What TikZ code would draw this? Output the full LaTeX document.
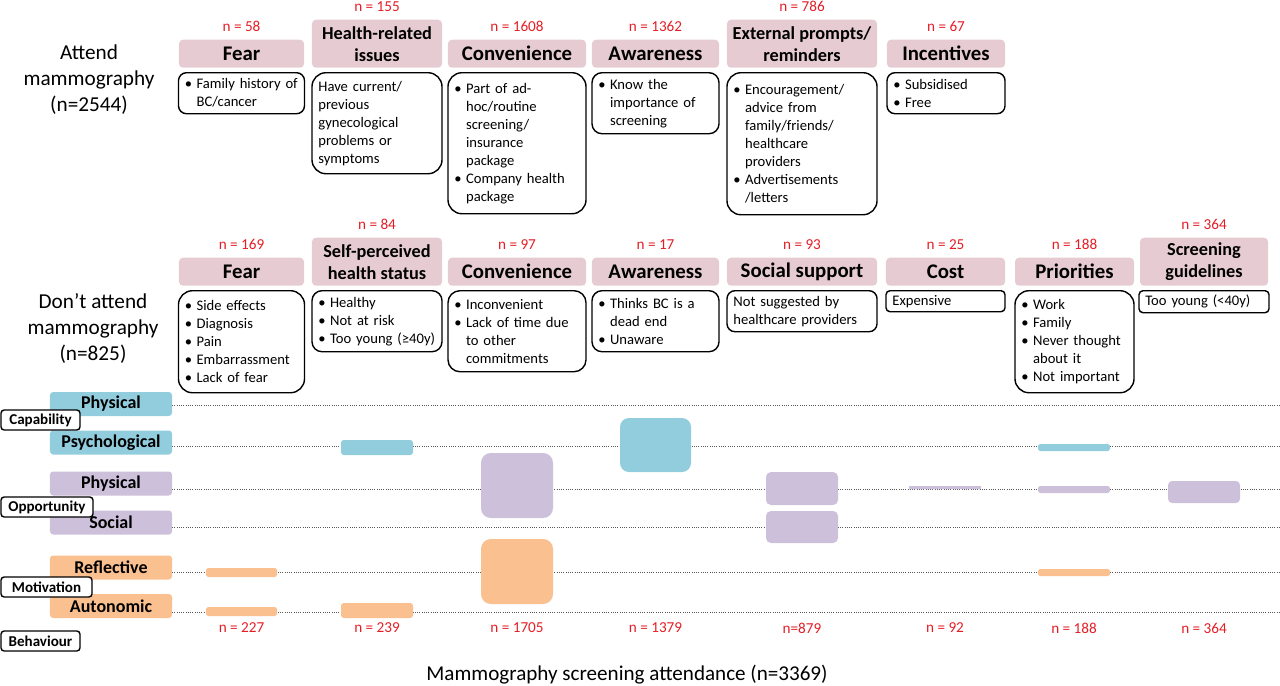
\documentclass[tikz,border=0pt]{standalone}
\usepackage{fontspec}
\setmainfont{Carlito}
\usetikzlibrary{positioning}

\definecolor{hdrpink}{RGB}{230,204,210}
\definecolor{capblue}{RGB}{146,205,221}
\definecolor{opppurple}{RGB}{204,192,218}
\definecolor{motorange}{RGB}{250,192,144}
\definecolor{nred}{RGB}{228,30,38}

\newcommand\itm[1]{\mbox{\makebox[0.8em][l]{•}#1}}
\newcommand\cnt[1]{\mbox{\hspace*{0.8em}#1}}

\tikzset{
	hdr/.style={fill=hdrpink, rounded corners=0.1cm, anchor=south, align=center, inner sep=0pt,
		minimum height=0.7cm, font=\fontsize{14.8}{15.6}\selectfont\bfseries},
	hdrtwo/.style={hdr, minimum height=1.2cm, font=\fontsize{13}{15.6}\selectfont\bfseries},
	detail/.style 2 args={draw, line width=1pt, rounded corners=0.3cm, anchor=north, align=left,
		inner xsep=0.16cm, inner ysep=0.05cm, text width=#1, minimum height=#2,
		font=\fontsize{10.4}{12.8}\selectfont},
	nlab/.style={text=nred, inner sep=0pt, font=\fontsize{10.8}{12}\selectfont},
	comb/.style={rounded corners=0.08cm, minimum width=3.05cm, minimum height=0.6cm, inner sep=0pt,
		font=\fontsize{12.8}{14}\selectfont\bfseries},
	group/.style={draw, fill=white, line width=1pt, rounded corners=0.08cm, minimum height=0.5cm,
		inner sep=0pt, font=\fontsize{10.7}{12}\selectfont\bfseries},
	gridline/.style={densely dotted, gray!70!black, line width=0.6pt},
	side/.style={align=center, font=\fontsize{15.1}{18.5}\selectfont},
}

\begin{document}
\begin{tikzpicture}[x=0.025cm, y=-0.025cm]
	\useasboundingbox (0,0) rectangle (1280,685);

	% attend
	\node (attend) at (89, 80)	[side]	{Attend\\mammography\\(n=2544)};
	\node (tFear)	at (241.5, 68)	[hdr, minimum width=3.125cm]	{Fear};
	\node (tHealth)	at (377, 68)	[hdrtwo, minimum width=3.25cm]	{Health-related\\issues};
	\node (tConv)	at (517, 68)	[hdr, minimum width=3.45cm]	{Convenience};
	\node (tAware)	at (655.5, 68)	[hdr, minimum width=3.175cm]	{Awareness};
	\node (tExt)	at (802, 68)	[hdrtwo, minimum width=3.75cm]	{External prompts/\\reminders};
	\node (tInc)	at (946, 68)	[hdr, minimum width=2.95cm]	{Incentives};

	\node[nlab, above=0.2cm of tFear]	(ntFear)	{n = 58};
	\node[nlab, above=0.2cm of tHealth]	(ntHealth)	{n = 155};
	\node[nlab, above=0.2cm of tConv]	(ntConv)	{n = 1608};
	\node[nlab, above=0.2cm of tAware]	(ntAware)	{n = 1362};
	\node[nlab, above=0.2cm of tExt]	(ntExt)	{n = 786};
	\node[nlab, above=0.2cm of tInc]	(ntInc)	{n = 67};

	\node[detail={2.83cm}{1.025cm}, rounded corners=0.2cm, below=0.1cm of tFear] (dtFear)
		{\itm{Family history of}\\\cnt{BC/cancer}};
	\node[detail={2.93cm}{2.525cm}, rounded corners=0.35cm, below=0.1cm of tHealth] (dtHealth)
		{Have current/\\previous\\gynecological\\problems or\\symptoms};
	\node[detail={3.13cm}{3.525cm}, rounded corners=0.35cm, below=0.1cm of tConv] (dtConv)
		{\itm{Part of ad-}\\\cnt{hoc/routine}\\\cnt{screening/}\\\cnt{insurance}\\\cnt{package}\\\itm{Company health}\\\cnt{package}};
	\node[detail={2.855cm}{1.525cm}, rounded corners=0.25cm, below=0.1cm of tAware] (dtAware)
		{\itm{Know the}\\\cnt{importance of}\\\cnt{screening}};
	\node[detail={3.43cm}{3.55cm}, rounded corners=0.35cm, below=0.1cm of tExt] (dtExt)
		{\itm{Encouragement/}\\\cnt{advice from}\\\cnt{family/friends/}\\\cnt{healthcare}\\\cnt{providers}\\\itm{Advertisements}\\\cnt{/letters}};
	\node[detail={2.63cm}{1.025cm}, rounded corners=0.2cm, below=0.1cm of tInc] (dtInc)
		{\itm{Subsidised}\\\itm{Free}};

	% don't attend
	\node (dontattend) at (93, 328)	[side]	{Don’t attend\\mammography\\(n=825)};
	\node (mFear)	at (241.5, 286)	[hdr, minimum width=3.125cm]	{Fear};
	\node (mSelf)	at (377, 286)	[hdrtwo, minimum width=3.25cm]	{Self-perceived\\health status};
	\node (mConv)	at (517, 286)	[hdr, minimum width=3.45cm]	{Convenience};
	\node (mAware)	at (655.5, 286)	[hdr, minimum width=3.175cm]	{Awareness};
	\node (mSoc)	at (802, 286)	[hdr, minimum width=3.75cm]	{Social support};
	\node (mCost)	at (945.5, 286)	[hdr, minimum width=2.975cm]	{Cost};
	\node (mPrio)	at (1074.5, 286)	[hdr, minimum width=2.975cm]	{Priorities};
	\node (mGuide)	at (1204, 286)	[hdrtwo, minimum width=3.2cm]	{Screening\\guidelines};

	\node[nlab, above=0.2cm of mFear]	(nmFear)	{n = 169};
	\node[nlab, above=0.2cm of mSelf]	(nmSelf)	{n = 84};
	\node[nlab, above=0.2cm of mConv]	(nmConv)	{n = 97};
	\node[nlab, above=0.2cm of mAware]	(nmAware)	{n = 17};
	\node[nlab, above=0.2cm of mSoc]	(nmSoc)	{n = 93};
	\node[nlab, above=0.2cm of mCost]	(nmCost)	{n = 25};
	\node[nlab, above=0.2cm of mPrio]	(nmPrio)	{n = 188};
	\node[nlab, above=0.2cm of mGuide]	(nmGuide)	{n = 364};

	\node[detail={2.83cm}{2.55cm}, rounded corners=0.35cm, below=0.1cm of mFear] (dmFear)
		{\itm{Side effects}\\\itm{Diagnosis}\\\itm{Pain}\\\itm{Embarrassment}\\\itm{Lack of fear}};
	\node[detail={2.93cm}{1.525cm}, rounded corners=0.25cm, below=0.1cm of mSelf] (dmSelf)
		{\itm{Healthy}\\\itm{Not at risk}\\\itm{Too young (≥40y)}};
	\node[detail={3.13cm}{2.025cm}, rounded corners=0.3cm, below=0.1cm of mConv] (dmConv)
		{\itm{Inconvenient}\\\itm{Lack of time due}\\\cnt{to other}\\\cnt{commitments}};
	\node[detail={2.855cm}{1.525cm}, rounded corners=0.25cm, below=0.1cm of mAware] (dmAware)
		{\itm{Thinks BC is a}\\\cnt{dead end}\\\itm{Unaware}};
	\node[detail={3.43cm}{1.025cm}, rounded corners=0.2cm, below=0.1cm of mSoc] (dmSoc)
		{Not suggested by\\healthcare providers};
	\node[detail={2.655cm}{0.525cm}, rounded corners=0.1cm, below=0.1cm of mCost] (dmCost)
		{Expensive};
	\node[detail={2.655cm}{2.55cm}, rounded corners=0.35cm, below=0.1cm of mPrio] (dmPrio)
		{\itm{Work}\\\itm{Family}\\\itm{Never thought}\\\cnt{about it}\\\itm{Not important}};
	\node[detail={2.93cm}{0.55cm}, rounded corners=0.1cm, below=0.1cm of mGuide] (dmGuide)
		{Too young (<40y)};

	% COM-B rows
	\foreach \y in {405,446,489,527,572,612}
		\draw[gridline] (172,\y) -- (1280,\y);

	\node (cPhys)	at (111, 404)	[comb, fill=capblue]	{Physical};
	\node (cPsych)	at (111, 442.5)	[comb, fill=capblue]	{Psychological};
	\node (oPhys)	at (111, 483.5)	[comb, fill=opppurple]	{Physical};
	\node (oSoc)	at (111, 522.5)	[comb, fill=opppurple]	{Social};
	\node (mRefl)	at (111, 567.5)	[comb, fill=motorange]	{Reflective};
	\node (mAuto)	at (111, 606)	[comb, fill=motorange]	{Autonomic};

	\node (gCap)	at (40.5, 420)	[group, minimum width=1.975cm]	{Capability};
	\node (gOpp)	at (47, 507)	[group, minimum width=2.3cm]	{Opportunity};
	\node (gMot)	at (46.5, 587)	[group, minimum width=2.275cm]	{Motivation};
	\node (gBeh)	at (40.5, 641)	[group, minimum width=1.975cm]	{Behaviour};

	% bars
	\fill[motorange, rounded corners=1.4pt]	(206,568) rectangle (277,577);
	\fill[motorange, rounded corners=1.4pt]	(206,607) rectangle (277,616);
	\fill[capblue, rounded corners=2pt]	(341,440) rectangle (413,455);
	\fill[motorange, rounded corners=2pt]	(341,603) rectangle (413,618);
	\fill[opppurple, rounded corners=7pt]	(481,453) rectangle (553,518);
	\fill[motorange, rounded corners=7pt]	(481,539) rectangle (553,604);
	\fill[capblue, rounded corners=6.4pt]	(620,418) rectangle (691,472);
	\fill[opppurple, rounded corners=3.5pt]	(766,472) rectangle (838,505);
	\fill[opppurple, rounded corners=3.5pt]	(766,511) rectangle (838,543);
	\fill[opppurple, rounded corners=0.5pt]	(909,486) rectangle (981,489);
	\fill[capblue, rounded corners=1.4pt]	(1038,444) rectangle (1110,451);
	\fill[opppurple, rounded corners=1.4pt]	(1038,486) rectangle (1110,493);
	\fill[motorange, rounded corners=1.4pt]	(1038,569) rectangle (1110,576);
	\fill[opppurple, rounded corners=3pt]	(1168,481) rectangle (1240,503);

	\node[nlab] (bFear)	at (241.5, 628)	{n = 227};
	\node[nlab] (bSelf)	at (377, 628)	{n = 239};
	\node[nlab] (bConv)	at (517, 628)	{n = 1705};
	\node[nlab] (bAware)	at (655.5, 628)	{n = 1379};
	\node[nlab] (bSoc)	at (802, 628)	{n=879};
	\node[nlab] (bCost)	at (945, 628)	{n = 92};
	\node[nlab] (bPrio)	at (1074, 628)	{n = 188};
	\node[nlab] (bGuide)	at (1204, 628)	{n = 364};

	\node (title) at (627, 675) [font=\fontsize{15}{18}\selectfont] {Mammography screening attendance (n=3369)};
\end{tikzpicture}
\end{document}
